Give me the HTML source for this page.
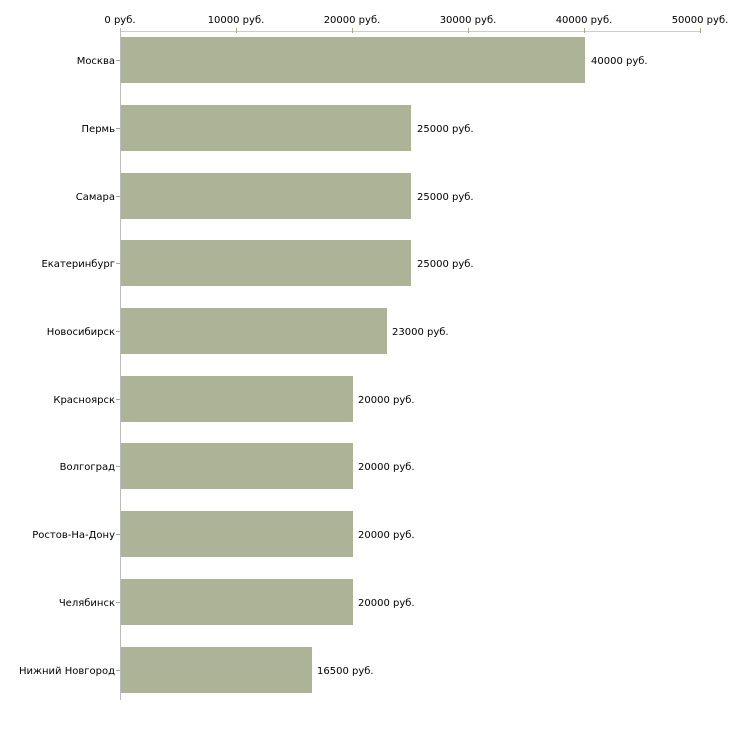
<!DOCTYPE html><html><head><style>body{margin:0;background:#fff}</style></head><body>
<svg width="730" height="730" xmlns="http://www.w3.org/2000/svg" font-family="DejaVu Sans, Verdana, sans-serif" font-size="10" fill="#000">
<line x1="120" y1="31.5" x2="700" y2="31.5" stroke="#ccc"/>
<line x1="120.5" y1="28" x2="120.5" y2="700" stroke="#bbb"/>
<g stroke="#a8a88a">
<line x1="236.5" y1="28" x2="236.5" y2="33"/><line x1="352.5" y1="28" x2="352.5" y2="33"/><line x1="468.5" y1="28" x2="468.5" y2="33"/><line x1="584.5" y1="28" x2="584.5" y2="33"/><line x1="700.5" y1="28" x2="700.5" y2="33"/>
</g>
<g text-anchor="middle">
<text x="120" y="23">0 руб.</text><text x="236" y="23">10000 руб.</text><text x="352" y="23">20000 руб.</text><text x="468" y="23">30000 руб.</text><text x="584" y="23">40000 руб.</text><text x="700" y="23">50000 руб.</text>
</g>
<g fill="#adb397">
<rect x="121" y="37" width="464" height="46"/>
<rect x="121" y="105" width="290" height="46"/>
<rect x="121" y="173" width="290" height="46"/>
<rect x="121" y="240" width="290" height="46"/>
<rect x="121" y="308" width="266" height="46"/>
<rect x="121" y="376" width="232" height="46"/>
<rect x="121" y="443" width="232" height="46"/>
<rect x="121" y="511" width="232" height="46"/>
<rect x="121" y="579" width="232" height="46"/>
<rect x="121" y="647" width="191" height="46"/>
</g>
<g stroke="#a8a88a">
<line x1="116" y1="60.5" x2="120" y2="60.5"/><line x1="116" y1="128.5" x2="120" y2="128.5"/><line x1="116" y1="196.5" x2="120" y2="196.5"/><line x1="116" y1="263.5" x2="120" y2="263.5"/><line x1="116" y1="331.5" x2="120" y2="331.5"/><line x1="116" y1="399.5" x2="120" y2="399.5"/><line x1="116" y1="466.5" x2="120" y2="466.5"/><line x1="116" y1="534.5" x2="120" y2="534.5"/><line x1="116" y1="602.5" x2="120" y2="602.5"/><line x1="116" y1="670.5" x2="120" y2="670.5"/>
</g>
<g text-anchor="end">
<text x="115" y="64">Москва</text><text x="115" y="132">Пермь</text><text x="115" y="200">Самара</text><text x="115" y="267">Екатеринбург</text><text x="115" y="335">Новосибирск</text><text x="115" y="403">Красноярск</text><text x="115" y="470">Волгоград</text><text x="115" y="538">Ростов-На-Дону</text><text x="115" y="606">Челябинск</text><text x="115" y="674">Нижний Новгород</text>
</g>
<g>
<text x="591" y="64">40000 руб.</text><text x="417" y="132">25000 руб.</text><text x="417" y="200">25000 руб.</text><text x="417" y="267">25000 руб.</text><text x="392" y="335">23000 руб.</text><text x="358" y="403">20000 руб.</text><text x="358" y="470">20000 руб.</text><text x="358" y="538">20000 руб.</text><text x="358" y="606">20000 руб.</text><text x="317" y="674">16500 руб.</text>
</g>
</svg>
</body></html>
